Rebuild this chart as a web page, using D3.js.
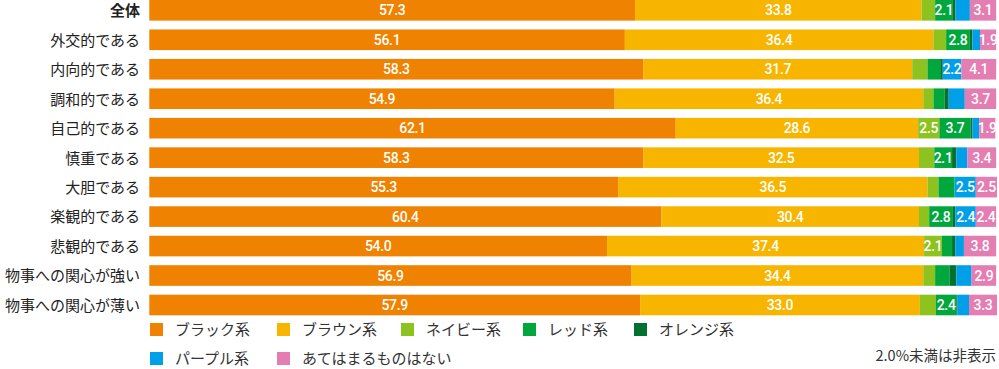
<!DOCTYPE html>
<html><head><meta charset="utf-8">
<script src="https://cdn.jsdelivr.net/npm/d3@7"></script>
<style>
body{margin:0;background:#fff;}
svg{display:block;}
</style></head>
<body><svg id="chart" width="999" height="369"></svg>
<script>
const categories = ["全体","外交的である","内向的である","調和的である","自己的である","慎重である","大胆である","楽観的である","悲観的である","物事への関心が強い","物事への関心が薄い"];
const seriesNames = ["ブラック系","ブラウン系","ネイビー系","レッド系","オレンジ系","パープル系","あてはまるものはない"];
const black  = [57.3,56.1,58.3,54.9,62.1,58.3,55.3,60.4,54.0,56.9,57.9];
const brown  = [33.8,36.4,31.7,36.4,28.6,32.5,36.5,30.4,37.4,34.4,33.0];
const navy   = [1.6,1.5,1.8,1.2,2.5,1.8,1.3,1.2,2.1,1.4,1.9];
const red    = [2.1,2.8,1.5,1.3,3.7,2.1,1.9,2.8,1.2,1.7,2.4];
const orange = [0.3,0.3,0.3,0.5,0.2,0.5,0.0,0.3,0.4,0.8,0.1];
const purple = [1.7,0.9,2.2,1.9,0.8,1.3,2.5,2.4,1.0,1.8,1.4];
const none   = [3.1,1.9,4.1,3.7,1.9,3.4,2.5,2.4,3.8,2.9,3.3];
const seriesValues = [black,brown,navy,red,orange,purple,none];
const colors = ["#EF8200","#F8B500","#8DC21F","#00A73C","#00712F","#00A0E9","#E47DB2"];
const note = "2.0%未満は非表示";

const svg = d3.select("#chart");
const x = d3.scaleLinear().domain([0,100]).range([149.3,997]);
const y = d3.scaleBand().domain(categories).range([0,315.3]).paddingInner(0.3).paddingOuter(0).align(0);

const rows = categories.map((c,i)=>{
  let acc=0;
  return seriesValues.map((s,k)=>{const d={cat:c,k,v:s[i],x0:acc,x1:acc+s[i]};acc+=s[i];return d;});
});

const g = svg.append("g");
rows.forEach(r=>{
  g.selectAll(null).data(r).enter().append("rect")
    .attr("x",d=>x(d.x0)).attr("width",d=>Math.max(0,x(d.x1)-x(d.x0)))
    .attr("y",d=>y(d.cat)).attr("height",y.bandwidth())
    .attr("fill",d=>colors[d.k]);
  g.selectAll(null).data(r.filter(d=>d.v>=2.0 || d.k===6)).enter().append("text")
    .attr("x",d=>x((d.x0+d.x1)/2)).attr("y",d=>y(d.cat)+y.bandwidth()/2)
    .attr("dy","0.36em").attr("text-anchor","middle")
    .attr("fill","#fff").attr("font-family","Roboto, sans-serif").attr("font-weight",500)
    .attr("font-size",14).attr("letter-spacing","-0.3")
    .text(d=>d.v.toFixed(1));
});

// category labels
svg.append("g").selectAll("text").data(categories).enter().append("text")
  .attr("x",140).attr("y",d=>y(d)+y.bandwidth()/2+0.5).attr("dy","0.36em")
  .attr("text-anchor","end").attr("font-family","'Noto Sans CJK JP', sans-serif")
  .attr("font-size",15).attr("fill","#222")
  .attr("font-weight",(d,i)=>i===0?700:400)
  .text(d=>d);

// legend
const legendPos = [[150,323],[277,323],[401,323],[523,323],[634,323],[150,352],[277,352]];
const lg = svg.append("g").selectAll("g").data(seriesNames).enter().append("g")
  .attr("transform",(d,i)=>`translate(${legendPos[i][0]},${legendPos[i][1]})`);
lg.append("rect").attr("width",13).attr("height",13).attr("fill",(d,i)=>colors[i]);
lg.append("text").attr("x",25).attr("y",6.5).attr("dy","0.36em")
  .attr("font-family","'Noto Sans CJK JP', sans-serif").attr("font-size",15).attr("fill","#333")
  .text(d=>d);

svg.append("text").attr("x",996).attr("y",356).attr("dy","0.36em").attr("text-anchor","end")
  .attr("font-family","'Noto Sans CJK JP', sans-serif").attr("font-size",14.5).attr("fill","#333")
  .text(note);
</script></body></html>
